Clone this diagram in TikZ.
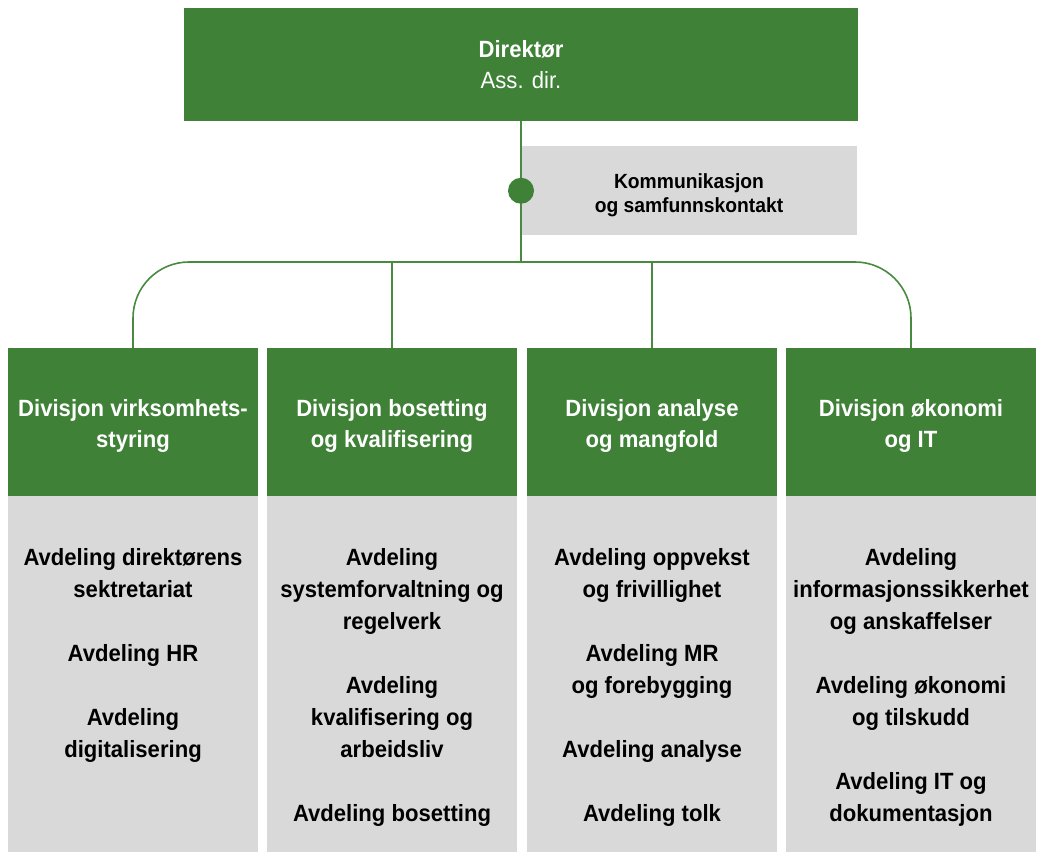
\documentclass[tikz,border=0pt]{standalone}
\usepackage{fontspec}
\setmainfont{Liberation Sans}[FakeStretch=0.94]
\usepackage{tikz}
\usetikzlibrary{positioning}

\definecolor{orggreen}{RGB}{62,129,55}
\definecolor{orgline}{RGB}{72,138,64}
\definecolor{orggrey}{RGB}{217,217,217}

\begin{document}
\begin{tikzpicture}[x=1pt, y=-1pt,
	greenbox/.style={fill=orggreen, text=white, inner sep=0pt, align=center,
		font=\bfseries\fontsize{23.5}{31}\selectfont},
	divhead/.style={greenbox, minimum width=\colw pt, minimum height=\headh pt},
	greybox/.style={fill=orggrey, inner sep=0pt},
	unitlist/.style={inner sep=0pt, align=center, text=black,
		font=\bfseries\fontsize{23.5}{32}\selectfont},
	branch/.style={draw=orgline, line width=1.6pt},
	hub/.style={circle, fill=orggreen, inner sep=0pt, minimum size=26pt}]
	\def\colw{250}
	\def\headh{148}
	\def\listh{356}
	\def\gap{\\[32pt]}
	\def\hstrut{\rule{0pt}{25pt}}

	\useasboundingbox (0,0) rectangle (1037,853);

	\node[greenbox, minimum width=674pt, minimum height=113pt]		(dir) at (521,64.5)
		{Direktør\\\mdseries Ass. dir.};
	\node[greybox, minimum width=336pt, minimum height=89.5pt, align=center,
		font=\bfseries\fontsize{20.5}{24}\selectfont]					(komm) at (689,190.75)
		{\rule{0pt}{24.7pt}Kommunikasjon\\og samfunnskontakt};

	\node[divhead]	(div1) at (133,422)	{\hstrut Divisjon virksomhets-\\styring};
	\node[divhead]	(div2) at (392,422)	{\hstrut Divisjon bosetting\\og kvalifisering};
	\node[divhead]	(div3) at (652,422)	{\hstrut Divisjon analyse\\og mangfold};
	\node[divhead]	(div4) at (911,422)	{\hstrut Divisjon økonomi\\og IT};

	\foreach \i in {1,...,4}
		\node[greybox, minimum width=\colw pt, minimum height=\listh pt, below=0pt of div\i]	(avd\i) {};

	\node[unitlist, below=52.5pt of div1]	(list1)
		{Avdeling direktørens\\sektretariat\gap Avdeling HR\gap Avdeling\\digitalisering};
	\node[unitlist, below=52.5pt of div2]	(list2)
		{Avdeling\\systemforvaltning og\\regelverk\gap Avdeling\\kvalifisering og\\arbeidsliv\gap Avdeling bosetting};
	\node[unitlist, below=52.5pt of div3]	(list3)
		{Avdeling oppvekst\\og frivillighet\gap Avdeling MR\\og forebygging\gap Avdeling analyse\gap Avdeling tolk};
	\node[unitlist, below=52.5pt of div4]	(list4)
		{Avdeling\\informasjonssikkerhet\\og anskaffelser\gap Avdeling økonomi\\og tilskudd\gap Avdeling IT og\\dokumentasjon};

	\coordinate (fork) at (521,262);
	\draw[branch]	(dir.south) -- (fork);
	\draw[branch, rounded corners=56pt]	(div1.north) -- (div1.north |- fork) -- (div4.north |- fork) -- (div4.north);
	\draw[branch]	(div2.north |- fork) -- (div2.north);
	\draw[branch]	(div3.north |- fork) -- (div3.north);
	\node[hub]		(dot) at (dir.south |- komm.west) {};
\end{tikzpicture}
\end{document}
